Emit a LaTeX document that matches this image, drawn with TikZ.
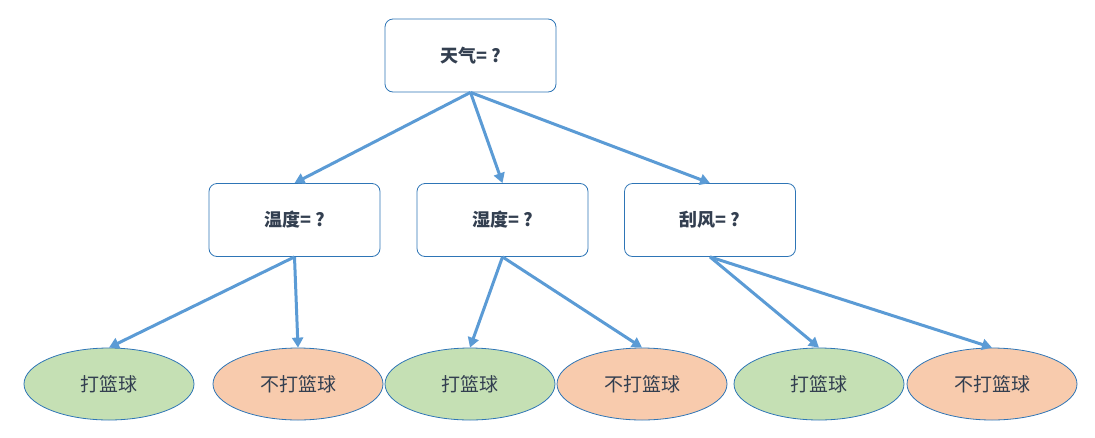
\documentclass[tikz,border=0pt]{standalone}
\usepackage{fontspec}
\newfontfamily\cjk{Noto Sans CJK SC}
\usetikzlibrary{shapes.geometric,arrows.meta}
\definecolor{arr}{HTML}{5B9BD5}
\definecolor{bd}{HTML}{2E75B6}
\definecolor{gr}{HTML}{C5E0B4}
\definecolor{or}{HTML}{F8CBAD}
\definecolor{tx}{HTML}{333F50}
\begin{document}
\begin{tikzpicture}[x=1pt,y=-1pt,
 box/.style={draw=bd,line width=0.8pt,rounded corners=8pt,minimum width=171pt,minimum height=73pt,font=\cjk\fontsize{18}{20}\selectfont\bfseries,text=tx},
 leaf/.style={ellipse,draw=bd,line width=0.8pt,minimum width=170pt,minimum height=72pt,font=\cjk\fontsize{19}{22}\selectfont,text=tx},
 g/.style={leaf,fill=gr}, o/.style={leaf,fill=or},
 ar/.style={draw=arr,line width=3pt,-{Triangle[length=10pt,width=11pt]}}]
\useasboundingbox (0,0) rectangle (1095,437);
\node[box] (r) at (470.5,55.5) {天气= ?};
\node[box] (a) at (294.5,220) {温度= ?};
\node[box] (b) at (502.5,220) {湿度= ?};
\node[box] (c) at (710,220) {刮风= ?};
\node[g] (l1) at (109,384) {打篮球};
\node[o] (l2) at (298,384) {不打篮球};
\node[g] (l3) at (470,384) {打篮球};
\node[o] (l4) at (642,384) {不打篮球};
\node[g] (l5) at (819,384) {打篮球};
\node[o] (l6) at (992,384) {不打篮球};
\draw[ar] (r.south) -- (a.north);
\draw[ar] (r.south) -- (b.north);
\draw[ar] (r.south) -- (c.north);
\draw[ar] (a.south) -- (l1.north);
\draw[ar] (a.south) -- (l2.north);
\draw[ar] (b.south) -- (l3.north);
\draw[ar] (b.south) -- (l4.north);
\draw[ar] (c.south) -- (l5.north);
\draw[ar] (c.south) -- (l6.north);
\end{tikzpicture}
\end{document}
